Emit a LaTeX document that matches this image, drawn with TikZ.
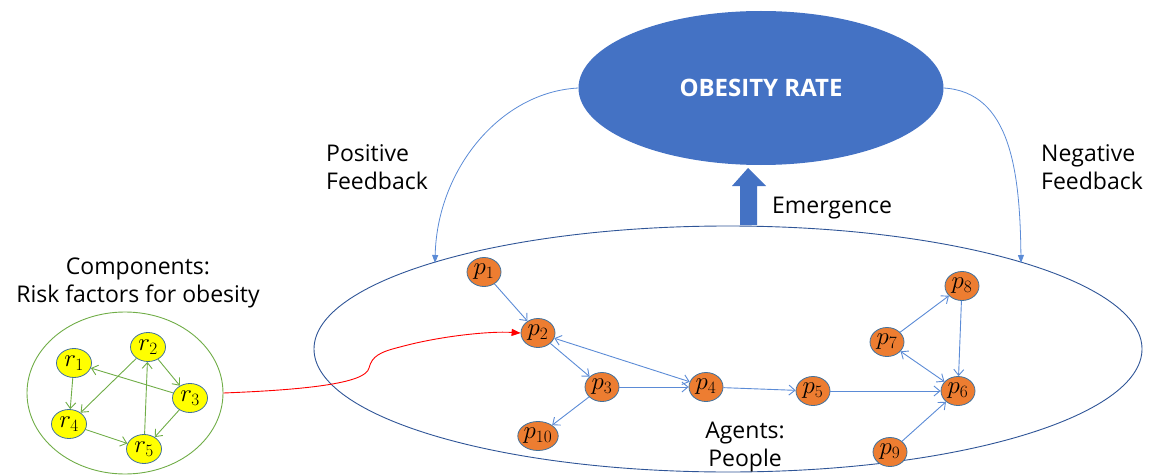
\documentclass[tikz,border=0pt]{standalone}
\usepackage[no-math]{fontspec}
\setmainfont{Open Sans}
\usetikzlibrary{shapes.geometric,arrows.meta}
\definecolor{obblue}{HTML}{4472C4}
\definecolor{rimblue}{HTML}{2F5597}
\definecolor{nodeedge}{HTML}{41719C}
\definecolor{agentorange}{HTML}{ED7D31}
\definecolor{riskyellow}{HTML}{FFFF00}
\definecolor{linkgreen}{HTML}{70AD47}
\definecolor{linkblue}{HTML}{5B8BD6}
\tikzset{
  agent/.style={ellipse, draw=nodeedge, line width=0.8pt, fill=agentorange,
    minimum width=34pt, minimum height=29pt, inner sep=0pt,
    font=\fontsize{23}{23}\selectfont},
  risk/.style={ellipse, draw=nodeedge, line width=0.8pt, fill=riskyellow,
    minimum width=35pt, minimum height=29pt, inner sep=0pt,
    font=\fontsize{23}{23}\selectfont},
  plink/.style={draw=linkblue, line width=0.9pt, -{Straight Barb[length=6pt,width=10pt]}},
  pboth/.style={plink, {Straight Barb[length=6pt,width=10pt]}-{Straight Barb[length=6pt,width=10pt]}},
  rlink/.style={draw=linkgreen, line width=0.9pt, -{Straight Barb[length=6pt,width=10pt]}},
  feedback/.style={draw=linkblue, line width=0.8pt, -{Triangle[length=8pt,width=6pt]}},
  label/.style={font=\fontsize{23}{28}\selectfont, align=left, inner sep=0pt},
  clabel/.style={font=\fontsize{23}{28}\selectfont, align=center, inner sep=0pt},
}
\begin{document}
\begin{tikzpicture}[x=1pt,y=-1pt]
\useasboundingbox (0,0) rectangle (1153,476);

% the emerging quantity
\node[ellipse, fill=obblue, minimum width=365pt, minimum height=154pt, inner sep=0pt,
  text=white, font=\fontsize{24}{24}\selectfont\bfseries] (rate) at (761,88) {OBESITY RATE};

% the population of agents
\node[ellipse, draw=rimblue, line width=0.9pt, minimum width=828pt, minimum height=246pt,
  inner sep=0pt] (pop) at (728,349) {};

% emergence arrow
\fill[obblue] (740,225) -- (740,186) -- (732,186) -- (748,168) -- (766,186) -- (757,186)
  -- (757,225) -- cycle;
\node[label, anchor=west] (emerg) at (772,208) {Emergence};

% feedback loops
\coordinate (posend) at (435,263);
\coordinate (negend) at (1021,263);
\draw[feedback] (rate.west) .. controls (500,92) and (437,170) .. (posend);
\draw[feedback] (rate.east) .. controls (1010,92) and (1020,170) .. (negend);
\node[label, anchor=north west] (pos) at (326,144) {Positive\\Feedback};
\node[label, anchor=north west] (neg) at (1041,144) {Negative\\Feedback};

% agents
\node[agent] (p1) at (484,272) {$p_1$};
\node[agent] (p2) at (538,333) {$p_2$};
\node[agent] (p3) at (602,387) {$p_3$};
\node[agent] (p4) at (706,387) {$p_4$};
\node[agent] (p5) at (813,391) {$p_5$};
\node[agent] (p6) at (958,391) {$p_6$};
\node[agent] (p7) at (887,342) {$p_7$};
\node[agent] (p8) at (962,286) {$p_8$};
\node[agent] (p9) at (890,452) {$p_9$};
\node[agent] (p10) at (538,436) {$p_{10}$};
\node[clabel] (agents) at (745,447) {Agents:\\People};

\draw[plink] (p1) -- (p2);
\draw[pboth] (p2) -- (p4);
\draw[plink] (p2) -- (p3);
\draw[plink] (p3) -- (p4);
\draw[plink] (p3) -- (p10);
\draw[plink] (p4) -- (p5);
\draw[plink] (p5) -- (p6);
\draw[plink] (p7) -- (p8);
\draw[plink] (p8) -- (p6);
\draw[pboth] (p7) -- (p6);
\draw[plink] (p9) -- (p6);

% risk factors
\node[clabel] (comp) at (138,283) {Components:\\Risk factors for obesity};
\node[ellipse, draw=linkgreen, line width=0.9pt, minimum width=196pt, minimum height=162pt,
  inner sep=0pt] (risks) at (125,393) {};
\node[risk] (r1) at (74,363) {$r_1$};
\node[risk] (r2) at (148,347) {$r_2$};
\node[risk] (r3) at (190,398) {$r_3$};
\node[risk] (r4) at (69,424) {$r_4$};
\node[risk] (r5) at (144,449) {$r_5$};

\draw[rlink] (r3) -- (r1);
\draw[rlink] (r1) -- (r4);
\draw[rlink] (r2) -- (r4);
\draw[rlink] (r2) -- (r3);
\draw[rlink] (r3) -- (r5);
\draw[rlink] (r4) -- (r5);
\draw[rlink] (r5) -- (r2);

% risk factors acting on one agent
\draw[red, line width=0.9pt, -{Triangle[length=9pt,width=7pt]}] (risks.east)
  .. controls (300,390) and (366,384) .. (369,368)
  .. controls (372,356) and (380,352) .. (400,347)
  .. controls (440,336) and (490,331) .. (p2.west);
\end{tikzpicture}
\end{document}
